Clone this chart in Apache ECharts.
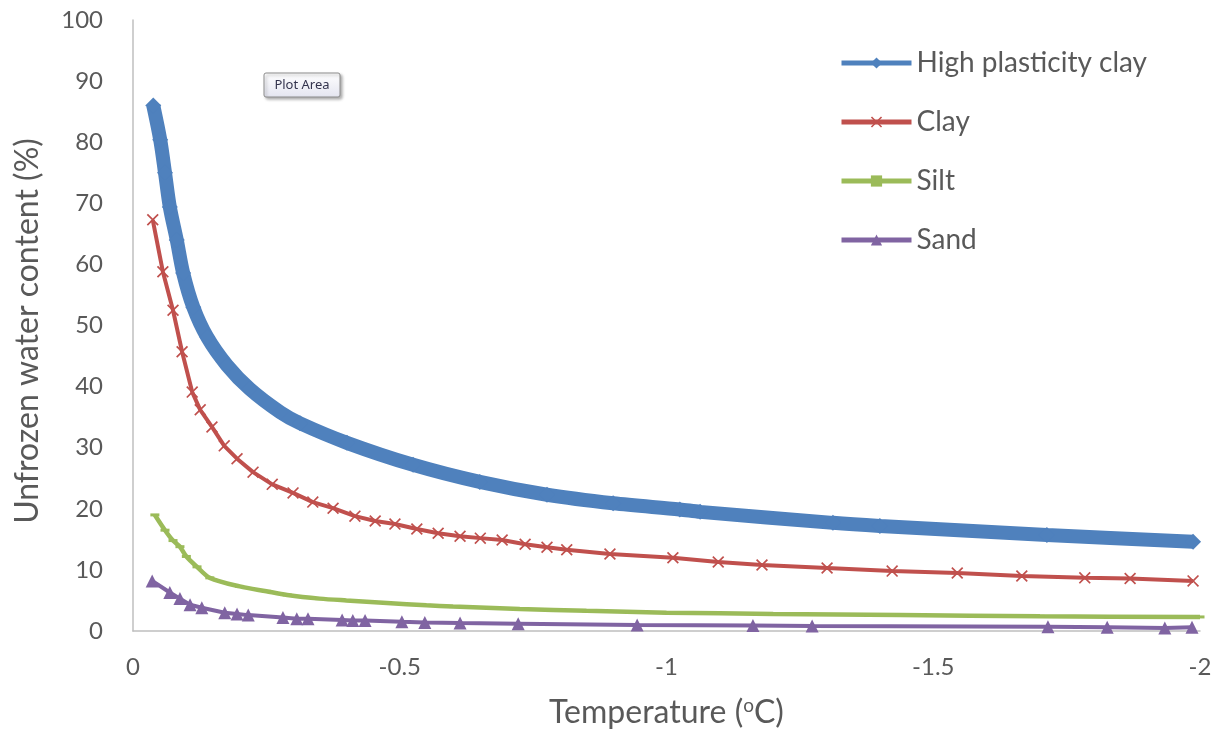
<!DOCTYPE html>
<html>
<head>
<meta charset="utf-8">
<script src="https://cdn.jsdelivr.net/npm/echarts@6/dist/echarts.min.js"></script>
<style>
html,body{margin:0;padding:0;background:#fff;}
#chart{width:1223px;height:736px;}
</style>
</head>
<body>
<div id="chart"></div>
<script>
// ---- Data ----
const seriesNames = ['High plasticity clay', 'Clay', 'Silt', 'Sand'];

const hpcTemp  = [-0.038,-0.051,-0.060,-0.069,-0.082,-0.094,-0.113,-0.139,-0.176,-0.219,-0.276,-0.313,-0.401,-0.525,-0.650,-0.776,-0.900,-1.025,-1.063,-1.312,-1.400,-1.713,-1.987];
const hpcWater = [86.0,80.4,75.0,69.4,64.0,58.6,53.0,48.1,43.5,39.6,35.8,34.0,30.8,27.2,24.4,22.3,20.9,19.9,19.5,17.7,17.2,15.7,14.6];

const clayTemp  = [-0.037,-0.056,-0.075,-0.092,-0.111,-0.126,-0.148,-0.171,-0.195,-0.225,-0.261,-0.300,-0.337,-0.375,-0.416,-0.454,-0.491,-0.532,-0.572,-0.613,-0.651,-0.692,-0.735,-0.776,-0.813,-0.894,-1.012,-1.097,-1.179,-1.301,-1.423,-1.545,-1.666,-1.784,-1.869,-1.987];
const clayWater = [67.3,58.8,52.5,45.7,39.1,36.2,33.4,30.3,28.2,26.0,24.0,22.6,21.1,20.1,18.8,18.0,17.5,16.7,16.0,15.5,15.2,14.9,14.2,13.7,13.3,12.6,12.0,11.3,10.8,10.3,9.8,9.5,9.0,8.7,8.6,8.2];

const siltTemp  = [-0.041,-0.060,-0.075,-0.088,-0.100,-0.120,-0.144,-0.200,-0.250,-0.289,-0.350,-0.400,-0.476,-0.550,-0.600,-0.725,-0.850,-1.000,-1.200,-1.438,-1.700,-2.000];
const siltWater = [19.0,16.5,14.8,13.8,12.2,10.5,8.7,7.3,6.5,5.9,5.3,5.0,4.6,4.2,4.0,3.6,3.3,3.0,2.8,2.6,2.4,2.3];

const sandTemp  = [-0.036,-0.069,-0.088,-0.107,-0.129,-0.172,-0.195,-0.216,-0.281,-0.307,-0.328,-0.392,-0.412,-0.435,-0.504,-0.547,-0.613,-0.722,-0.945,-1.162,-1.273,-1.715,-1.826,-1.934,-1.985];
const sandWater = [8.2,6.3,5.3,4.3,3.8,3.0,2.8,2.6,2.2,2.0,2.0,1.8,1.7,1.7,1.5,1.4,1.3,1.2,1.0,0.9,0.8,0.7,0.6,0.5,0.6];

const xTickLabels = ['0', '-0.5', '-1', '-1.5', '-2'];
const yTickLabels = ['0','10','20','30','40','50','60','70','80','90','100'];

// ---- Build ----
function pairs(xs, ys){ return xs.map((x,i)=>[x, ys[i]]); }

const FONT = 'Lato, "Liberation Sans", sans-serif';
const TXT = '#595959';
const crossPath = 'path://M1,0 L5,4 L9,0 L10,1 L6,5 L10,9 L9,10 L5,6 L1,10 L0,9 L4,5 L0,1 Z';
const dashPath = 'path://M0,0 L9,0 L9,3 L0,3 Z';

const chart = echarts.init(document.getElementById('chart'), null, {renderer:'canvas'});
chart.setOption({
  animation: false,
  backgroundColor: '#ffffff',
  textStyle: {fontFamily: FONT},
  grid: {left: 133, right: 23, top: 20, bottom: 105, containLabel: false},
  legend: {
    orient: 'vertical',
    left: 834, top: 43,
    itemWidth: 70, itemHeight: 14, itemGap: 29,
    textStyle: {fontSize: 28, lineHeight: 30, color: TXT, fontFamily: FONT},
    lineStyle: {width: 5},
    data: seriesNames
  },
  xAxis: {
    type: 'value', min: -2, max: 0, interval: 0.5, inverse: true,
    axisLine: {show: true, onZero: false, lineStyle: {color: '#BFBFBF', width: 1.5}},
    axisTick: {show: false},
    splitLine: {show: false},
    axisLabel: {fontSize: 24, color: TXT, margin: 24, fontFamily: FONT,
      formatter: v => xTickLabels[Math.round(-v / 0.5)]},
    name: 'Temperature ({sup|o}C)',
    nameLocation: 'middle', nameGap: 65,
    nameTextStyle: {fontSize: 32, color: TXT, fontFamily: FONT,
      rich: {sup: {fontSize: 19, color: TXT, fontFamily: FONT, padding: [0,0,14,0]}}}
  },
  yAxis: {
    type: 'value', min: 0, max: 100, interval: 10,
    axisLine: {show: true, onZero: false, lineStyle: {color: '#BFBFBF', width: 1.5}},
    axisTick: {show: false},
    splitLine: {show: false},
    axisLabel: {fontSize: 24, color: TXT, margin: 30, fontFamily: FONT,
      formatter: v => yTickLabels[Math.round(v / 10)]}
  },
  graphic: [
    {type: 'text', x: 28, y: 331, rotation: Math.PI/2,
     style: {text: 'Unfrozen water content (%)', fontSize: 32, fill: TXT, fontFamily: FONT,
             align: 'center', verticalAlign: 'middle'}},
    {type: 'group', x: 264, y: 73, children: [
      {type: 'rect', shape: {x: 0, y: 0, width: 76, height: 24, r: 2},
       style: {fill: new echarts.graphic.LinearGradient(0,0,0,1,[{offset:0,color:'#ffffff'},{offset:1,color:'#e4e5f0'}]),
               stroke: '#8c8c8c', lineWidth: 1, shadowBlur: 3, shadowOffsetX: 2, shadowOffsetY: 2, shadowColor: 'rgba(0,0,0,0.3)'}},
      {type: 'text', x: 38, y: 12,
       style: {text: 'Plot Area', fontSize: 13, fill: '#33334d', fontFamily: '"Noto Sans", sans-serif',
               align: 'center', verticalAlign: 'middle'}}
    ]}
  ],
  series: [
    {name: seriesNames[0], type: 'line', data: pairs(hpcTemp, hpcWater), smooth: 0.3,
     symbol: 'diamond', symbolSize: 16, showAllSymbol: true,
     itemStyle: {color: '#4F81BD'}, lineStyle: {color: '#4F81BD', width: 14}, z: 2},
    {name: seriesNames[1], type: 'line', data: pairs(clayTemp, clayWater),
     symbol: crossPath, symbolSize: 12, showAllSymbol: true,
     itemStyle: {color: '#C0504D'}, lineStyle: {color: '#C0504D', width: 4}, z: 3},
    {name: seriesNames[2], type: 'line', data: pairs(siltTemp, siltWater), smooth: 0.3,
     symbol: dashPath, symbolSize: 9, symbolKeepAspect: true, showAllSymbol: true,
     itemStyle: {color: '#9BBB59'}, lineStyle: {color: '#9BBB59', width: 4.5}, z: 4},
    {name: seriesNames[3], type: 'line', data: pairs(sandTemp, sandWater),
     symbol: 'triangle', symbolSize: 13, showAllSymbol: true,
     itemStyle: {color: '#8064A2'}, lineStyle: {color: '#8064A2', width: 4}, z: 5}
  ]
});
</script>
</body>
</html>
